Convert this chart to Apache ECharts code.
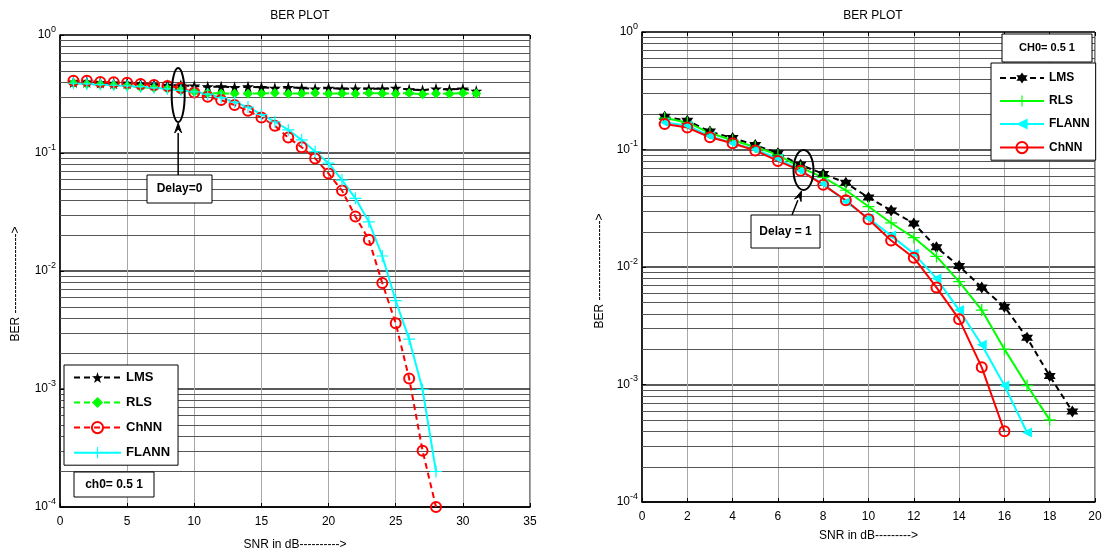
<!DOCTYPE html>
<html>
<head>
<meta charset="utf-8">
<script src="https://cdn.jsdelivr.net/npm/echarts@6/dist/echarts.min.js"></script>
<style>
  html, body { margin: 0; padding: 0; background: #fff; }
  #c { width: 1109px; height: 558px; }
</style>
</head>
<body>
<div id="c"></div>
<script>
// ---------- left panel: channel 0.5 1, delay 0 ----------
const snrLeftLong  = [1,2,3,4,5,6,7,8,9,10,11,12,13,14,15,16,17,18,19,20,21,22,23,24,25,26,27,28,29,30,31];
const snrLeftShort = [1,2,3,4,5,6,7,8,9,10,11,12,13,14,15,16,17,18,19,20,21,22,23,24,25,26,27,28];
const lmsLeft   = [0.40,0.40,0.395,0.39,0.39,0.385,0.38,0.375,0.375,0.37,0.365,0.365,0.36,0.365,0.36,0.355,0.36,0.355,0.35,0.355,0.35,0.35,0.35,0.35,0.355,0.345,0.34,0.35,0.345,0.35,0.335];
const rlsLeft   = [0.39,0.385,0.38,0.375,0.37,0.36,0.355,0.35,0.34,0.33,0.322,0.32,0.32,0.318,0.32,0.322,0.318,0.32,0.322,0.318,0.32,0.318,0.322,0.32,0.318,0.322,0.315,0.32,0.318,0.322,0.32];
const chnnLeft  = [0.41,0.41,0.40,0.397,0.394,0.384,0.377,0.37,0.355,0.325,0.30,0.281,0.255,0.228,0.200,0.170,0.135,0.112,0.090,0.067,0.048,0.029,0.0184,0.0079,0.0036,0.00123,0.0003,0.0001];
const flannLeft = [0.39,0.385,0.38,0.375,0.37,0.365,0.357,0.35,0.34,0.33,0.315,0.295,0.27,0.245,0.212,0.184,0.157,0.129,0.103,0.082,0.059,0.0413,0.0261,0.0134,0.0056,0.00265,0.00099,0.0002];

// ---------- right panel: channel 0.5 1, delay 1 ----------
const snrLms   = [1,2,3,4,5,6,7,8,9,10,11,12,13,14,15,16,17,18,19];
const snrRls   = [1,2,3,4,5,6,7,8,9,10,11,12,13,14,15,16,17,18];
const snrFlann = [1,2,3,4,5,6,7,8,9,10,11,12,13,14,15,16,17];
const snrChnn  = [1,2,3,4,5,6,7,8,9,10,11,12,13,14,15,16];
const lmsRight   = [0.19,0.176,0.142,0.125,0.109,0.093,0.074,0.062,0.052,0.039,0.0303,0.0235,0.0147,0.0102,0.0067,0.0046,0.0025,0.00118,0.00059];
const rlsRight   = [0.185,0.17,0.138,0.12,0.105,0.09,0.07,0.058,0.045,0.0327,0.0237,0.0178,0.0123,0.0075,0.0043,0.0020,0.00098,0.0005];
const flannRight = [0.17,0.16,0.13,0.113,0.10,0.084,0.066,0.051,0.036,0.026,0.0185,0.013,0.008,0.0043,0.00218,0.00098,0.00039];
const chnnRight  = [0.165,0.154,0.127,0.113,0.098,0.080,0.066,0.050,0.037,0.0255,0.0168,0.0120,0.0067,0.0036,0.0014,0.0004];

// y tick decades and the 2..9 minor grid positions between them
const decades = [-4,-3,-2,-1];
const minorMultipliers = [2,3,4,5,6,7,8,9];

const FONT = '"Liberation Sans", Arial, Helvetica, sans-serif';
const PENTAGRAM = 'path://M50,0L61.17,34.63L97.55,34.55L68.07,55.87L79.39,90.45L50,69L20.61,90.45L31.93,55.87L2.45,34.55L38.83,34.63Z';
const HEXAGRAM  = 'path://M50,0L64.43,25L93.3,25L78.87,50L93.3,75L64.43,75L50,100L35.57,75L6.7,75L21.13,50L6.7,25L35.57,25Z';
const PLUS      = 'path://M45,0H55V45H100V55H55V100H45V55H0V45H45Z';

const minorValues = [];
decades.forEach(e => minorMultipliers.forEach(m => minorValues.push(m * Math.pow(10, e))));

function pairs(xs, ys) { return xs.map((x, i) => [x, ys[i]]); }

function curve(name, g, xs, ys, color, dash, symbol, size, item, extra) {
  return Object.assign({
    type: 'line', name: name, xAxisIndex: g, yAxisIndex: g,
    data: pairs(xs, ys),
    symbol: symbol, symbolSize: size, showAllSymbol: true,
    lineStyle: { color: color, width: 2, type: dash ? [6, 4] : 'solid' },
    itemStyle: Object.assign({ color: color }, item || {}),
    emphasis: { disabled: true },
    animation: false, z: 3
  }, extra || {});
}

// horizontal minor grid lines of the log axis, drawn across the whole plot area
function minorGrid(g) {
  return {
    type: 'custom', name: 'minor_' + g, xAxisIndex: g, yAxisIndex: g,
    data: minorValues.map(v => [0, v]), encode: { x: 0, y: 1 },
    silent: true, z: 1, animation: false, clip: true,
    renderItem: (params, api) => {
      const cs = params.coordSys;
      const y = Math.round(api.coord([0, api.value(1)])[1]) + 0.5;
      return { type: 'line', shape: { x1: cs.x, y1: y, x2: cs.x + cs.width, y2: y },
               style: { stroke: '#555', lineWidth: 1 } };
    }
  };
}

function xAxisFor(g, max, interval, name, gap) {
  return [{
    type: 'value', gridIndex: g, min: 0, max: max, interval: interval,
    name: name, nameLocation: 'middle', nameGap: gap,
    nameTextStyle: { color: '#000', fontSize: 12, fontFamily: FONT },
    axisLine: { onZero: false, lineStyle: { color: '#000', width: 1.5 } },
    axisTick: { inside: true, length: 4, lineStyle: { color: '#000' } },
    axisLabel: { color: '#000', fontSize: 12, fontFamily: FONT, margin: 9 },
    splitLine: { show: true, lineStyle: { color: '#a8a8a8', width: 1 } }
  }, {
    type: 'value', gridIndex: g, min: 0, max: max, interval: interval, position: 'top',
    axisLine: { show: false },
    axisTick: { inside: true, length: 4, lineStyle: { color: '#000' } },
    axisLabel: { show: false }, splitLine: { show: false }
  }];
}

function yAxisFor(g, gap, shift) {
  return {
    type: 'log', logBase: 10, gridIndex: g, min: 1e-4, max: 1, splitNumber: 4,
    name: 'BER -------------------->', nameLocation: 'middle', nameGap: gap,
    nameTextStyle: { color: '#000', fontSize: 12, fontFamily: FONT, padding: [0, shift, 0, 0] },
    axisLine: { lineStyle: { color: '#000', width: 1.5 } },
    axisTick: { inside: true, length: 4, lineStyle: { color: '#000' } },
    axisLabel: {
      margin: 4, fontFamily: FONT, color: '#000',
      formatter: v => '{b|10}{s|' + Math.round(Math.log10(v)) + '}',
      rich: {
        b: { fontSize: 12, fontFamily: FONT, color: '#000' },
        s: { fontSize: 9, fontFamily: FONT, color: '#000', padding: [0, 0, 11, 0] }
      }
    },
    splitLine: { show: true, lineStyle: { color: '#222', width: 1.5 } }
  };
}

const hollow = { color: 'rgba(255,255,255,0)', borderColor: '#ff0000', borderWidth: 2 };
const legendText = { color: '#000', fontWeight: 'bold', fontSize: 12, fontFamily: FONT };

const xs = xAxisFor(0, 35, 5, 'SNR in dB---------->', 32).concat(xAxisFor(1, 20, 2, 'SNR in dB--------->', 28));

const option = {
  backgroundColor: '#fff',
  animation: false,
  title: [
    { text: 'BER PLOT', left: 295, top: 5, textAlign: 'center',
      textStyle: { fontSize: 12, fontWeight: 'normal', color: '#000', fontFamily: FONT } },
    { text: 'BER PLOT', left: 868, top: 5, textAlign: 'center',
      textStyle: { fontSize: 12, fontWeight: 'normal', color: '#000', fontFamily: FONT } }
  ],
  grid: [
    { left: 60, top: 35, width: 470, height: 472, show: true, borderColor: '#000', borderWidth: 1, outerBoundsMode: 'none', containLabel: false },
    { left: 642, top: 32, width: 453, height: 470, show: true, borderColor: '#000', borderWidth: 1, outerBoundsMode: 'none', containLabel: false }
  ],
  xAxis: [xs[0], xs[2], xs[1], xs[3]],
  yAxis: [yAxisFor(0, 38, 26), yAxisFor(1, 36, 8)],
  legend: [
    { orient: 'vertical', left: 64, top: 365, itemWidth: 47, itemHeight: 14, itemGap: 12,
      padding: [6, 8, 6, 9], borderColor: '#000', borderWidth: 1, backgroundColor: '#fff',
      textStyle: Object.assign({}, legendText, { fontSize: 13 }),
      data: ['LMS_a', 'RLS_a', 'ChNN_a', 'FLANN_a'],
      formatter: n => n.split('_')[0], selectedMode: false },
    { orient: 'vertical', left: 991, top: 63, itemWidth: 44, itemHeight: 14, itemGap: 11,
      padding: [9, 6, 6, 8], borderColor: '#000', borderWidth: 1, backgroundColor: '#fff',
      textStyle: legendText,
      data: ['LMS_b', 'RLS_b', 'FLANN_b', 'ChNN_b'],
      formatter: n => n.split('_')[0], selectedMode: false }
  ],
  series: [
    minorGrid(0),
    minorGrid(1),
    curve('LMS_a',   0, snrLeftLong,  lmsLeft,   '#000000', true,  PENTAGRAM, 12),
    curve('RLS_a',   0, snrLeftLong,  rlsLeft,   '#00ff00', true,  'diamond', 10),
    curve('ChNN_a',  0, snrLeftShort, chnnLeft,  '#ff0000', true,  'circle', 10, hollow),
    curve('FLANN_a', 0, snrLeftShort, flannLeft, '#00ffff', false, PLUS, 12),
    curve('LMS_b',   1, snrLms,   lmsRight,   '#000000', true,  HEXAGRAM, 12),
    curve('RLS_b',   1, snrRls,   rlsRight,   '#00ff00', false, PLUS, 12),
    curve('FLANN_b', 1, snrFlann, flannRight, '#00ffff', false, 'triangle', 10, null, { symbolRotate: 90 }),
    curve('ChNN_b',  1, snrChnn,  chnnRight,  '#ff0000', false, 'circle', 10, hollow)
  ]
};

const chart = echarts.init(document.getElementById('c'), null, { renderer: 'canvas' });
chart.setOption(option);

// annotations: ellipse around the delay point, arrow and text boxes
function arrow(tail, tip) {
  const dx = tip[0] - tail[0], dy = tip[1] - tail[1];
  const len = Math.sqrt(dx * dx + dy * dy), ux = dx / len, uy = dy / len;
  const hl = 10, hw = 3.5;
  const bx = tip[0] - ux * hl, by = tip[1] - uy * hl;
  return [
    { type: 'line', shape: { x1: tail[0], y1: tail[1], x2: bx, y2: by },
      style: { stroke: '#000', lineWidth: 1.5 }, z: 10 },
    { type: 'polygon', shape: { points: [tip, [bx - uy * hw, by + ux * hw], [tip[0] - ux * hl * 0.6, tip[1] - uy * hl * 0.6], [bx + uy * hw, by - ux * hw]] },
      style: { fill: '#000', stroke: '#000', lineWidth: 1 }, z: 10 }
  ];
}

function textBox(x, y, w, h, text, size) {
  return [
    { type: 'rect', shape: { x: x, y: y, width: w, height: h },
      style: { fill: '#fff', stroke: '#000', lineWidth: 1 }, z: 10 },
    { type: 'text', x: x + w / 2, y: y + h / 2,
      style: { text: text, fill: '#000', font: 'bold ' + size + 'px ' + FONT, align: 'center', verticalAlign: 'middle' }, z: 11 }
  ];
}

const cL = chart.convertToPixel({ gridIndex: 0 }, [8.8, 0.31]);
const cR = chart.convertToPixel({ gridIndex: 1 }, [7.13, 0.0669]);
const els = [];
els.push({ type: 'ellipse', shape: { cx: cL[0], cy: cL[1], rx: 6.5, ry: 27 },
  style: { fill: 'none', stroke: '#000', lineWidth: 2 }, z: 10 });
els.push.apply(els, arrow([cL[0], 175], [cL[0], cL[1] + 28]));
els.push.apply(els, textBox(147, 175, 65, 28, 'Delay=0', 12));
els.push.apply(els, textBox(74, 472, 80, 25, 'ch0= 0.5 1', 12));

els.push({ type: 'ellipse', shape: { cx: cR[0], cy: cR[1], rx: 10, ry: 20 },
  style: { fill: 'none', stroke: '#000', lineWidth: 2 }, z: 10 });
els.push.apply(els, arrow([792, 215], [cR[0] - 2, cR[1] + 21]));
els.push.apply(els, textBox(751, 215, 69, 33, 'Delay = 1', 12));
els.push.apply(els, textBox(1002, 34, 90, 28, 'CH0= 0.5 1', 11));

chart.setOption({ graphic: els });
</script>
</body>
</html>
